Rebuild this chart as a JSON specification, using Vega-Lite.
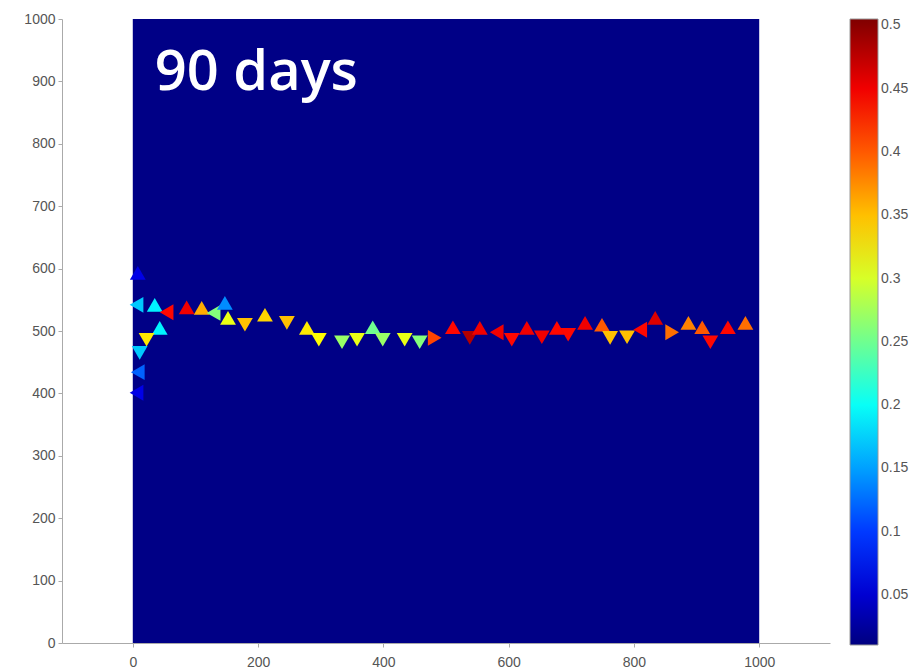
{
  "$schema": "https://vega.github.io/schema/vega-lite/v6.json",
  "width": 768,
  "height": 624,
  "autosize": {"type": "none"},
  "padding": {"left": 62, "top": 19, "right": 88, "bottom": 26},
  "background": "white",
  "config": {
    "view": {"stroke": null},
    "axis": {
      "grid": false,
      "title": null,
      "domainColor": "#aaaaaa",
      "tickColor": "#aaaaaa",
      "labelColor": "#555555",
      "labelFont": "Liberation Sans",
      "labelFontSize": 14,
      "format": "d"
    }
  },
  "datasets": {
    "pts": [
      {"x": 8, "y": 593, "val": 0.06, "dir": "up"},
      {"x": 6, "y": 542, "val": 0.17, "dir": "left"},
      {"x": 35, "y": 542, "val": 0.19, "dir": "up"},
      {"x": 54, "y": 530, "val": 0.44, "dir": "left"},
      {"x": 86, "y": 538, "val": 0.45, "dir": "up"},
      {"x": 110, "y": 537, "val": 0.36, "dir": "up"},
      {"x": 129, "y": 529, "val": 0.26, "dir": "left"},
      {"x": 147, "y": 545, "val": 0.14, "dir": "up"},
      {"x": 152, "y": 521, "val": 0.31, "dir": "up"},
      {"x": 179, "y": 510, "val": 0.35, "dir": "down"},
      {"x": 211, "y": 526, "val": 0.34, "dir": "up"},
      {"x": 246, "y": 513, "val": 0.35, "dir": "down"},
      {"x": 278, "y": 505, "val": 0.33, "dir": "up"},
      {"x": 297, "y": 486, "val": 0.32, "dir": "down"},
      {"x": 334, "y": 482, "val": 0.27, "dir": "down"},
      {"x": 358, "y": 486, "val": 0.31, "dir": "down"},
      {"x": 383, "y": 506, "val": 0.25, "dir": "up"},
      {"x": 399, "y": 486, "val": 0.27, "dir": "down"},
      {"x": 434, "y": 486, "val": 0.31, "dir": "down"},
      {"x": 458, "y": 482, "val": 0.26, "dir": "down"},
      {"x": 482, "y": 489, "val": 0.41, "dir": "right"},
      {"x": 511, "y": 506, "val": 0.44, "dir": "up"},
      {"x": 538, "y": 489, "val": 0.48, "dir": "down"},
      {"x": 554, "y": 505, "val": 0.45, "dir": "up"},
      {"x": 581, "y": 498, "val": 0.45, "dir": "left"},
      {"x": 605, "y": 486, "val": 0.44, "dir": "down"},
      {"x": 629, "y": 505, "val": 0.45, "dir": "up"},
      {"x": 653, "y": 490, "val": 0.45, "dir": "down"},
      {"x": 677, "y": 505, "val": 0.44, "dir": "up"},
      {"x": 695, "y": 494, "val": 0.44, "dir": "down"},
      {"x": 722, "y": 513, "val": 0.45, "dir": "up"},
      {"x": 749, "y": 510, "val": 0.40, "dir": "up"},
      {"x": 762, "y": 489, "val": 0.35, "dir": "down"},
      {"x": 789, "y": 490, "val": 0.35, "dir": "down"},
      {"x": 810, "y": 502, "val": 0.44, "dir": "left"},
      {"x": 834, "y": 521, "val": 0.46, "dir": "up"},
      {"x": 861, "y": 498, "val": 0.39, "dir": "right"},
      {"x": 887, "y": 513, "val": 0.38, "dir": "up"},
      {"x": 909, "y": 506, "val": 0.40, "dir": "up"},
      {"x": 922, "y": 482, "val": 0.44, "dir": "down"},
      {"x": 950, "y": 506, "val": 0.44, "dir": "up"},
      {"x": 978, "y": 513, "val": 0.39, "dir": "up"},
      {"x": 43, "y": 505, "val": 0.19, "dir": "up"},
      {"x": 22, "y": 486, "val": 0.33, "dir": "down"},
      {"x": 11, "y": 465, "val": 0.17, "dir": "down"},
      {"x": 8, "y": 434, "val": 0.12, "dir": "left"},
      {"x": 6, "y": 401, "val": 0.06, "dir": "left"}
    ]
  },
  "layer": [
    {
      "data": {"values": [{"region": "domain"}]},
      "mark": {"type": "rect", "color": "#000086"},
      "encoding": {
        "x": {
          "datum": 0,
          "type": "quantitative",
          "scale": {"domain": [-113, 1113], "nice": false, "zero": false},
          "axis": {"values": [0, 200, 400, 600, 800, 1000], "tickSize": 4, "labelPadding": 8, "title": null}
        },
        "x2": {"datum": 1000},
        "y": {
          "datum": 0,
          "type": "quantitative",
          "scale": {"domain": [0, 1000], "nice": false},
          "axis": {"values": [0, 100, 200, 300, 400, 500, 600, 700, 800, 900, 1000], "tickSize": 4, "labelPadding": 3, "title": null}
        },
        "y2": {"datum": 1000}
      }
    },
    {
      "data": {"name": "pts"},
      "mark": {"type": "point", "filled": true, "opacity": 1, "size": 250, "strokeWidth": 0},
      "encoding": {
        "x": {"field": "x", "type": "quantitative", "title": null},
        "y": {"field": "y", "type": "quantitative", "title": null},
        "shape": {
          "field": "dir",
          "type": "nominal",
          "scale": {"domain": ["up", "down", "left", "right"], "range": ["triangle-up", "triangle-down", "triangle-left", "triangle-right"]},
          "legend": null
        },
        "color": {
          "field": "val",
          "type": "quantitative",
          "scale": {
            "type": "linear",
            "domain": [0.0105, 0.0723, 0.196, 0.3196, 0.4432, 0.505],
            "range": ["#000080", "#0000ff", "#00ffff", "#ffff00", "#ff0000", "#800000"],
            "interpolate": "rgb"
          },
          "legend": {
            "orient": "none",
            "legendX": 788,
            "legendY": 0,
            "direction": "vertical",
            "title": null,
            "padding": 0,
            "gradientLength": 626,
            "gradientThickness": 28,
            "gradientStrokeColor": "#999999",
            "gradientStrokeWidth": 1,
            "values": [0.05, 0.1, 0.15, 0.2, 0.25, 0.3, 0.35, 0.4, 0.45, 0.5],
            "format": "~g",
            "labelOverlap": false,
            "labelFont": "Liberation Sans",
            "labelFontSize": 14,
            "labelColor": "#555555",
            "labelOffset": 3
          }
        }
      }
    },
    {
      "data": {"values": [{"label": "90 days"}]},
      "mark": {"type": "text", "font": "Open Sans", "fontSize": 56, "fontWeight": 600, "color": "white", "align": "left", "baseline": "alphabetic"},
      "encoding": {
        "x": {"datum": 35, "type": "quantitative"},
        "y": {"datum": 886, "type": "quantitative"},
        "text": {"field": "label"}
      }
    }
  ]
}
